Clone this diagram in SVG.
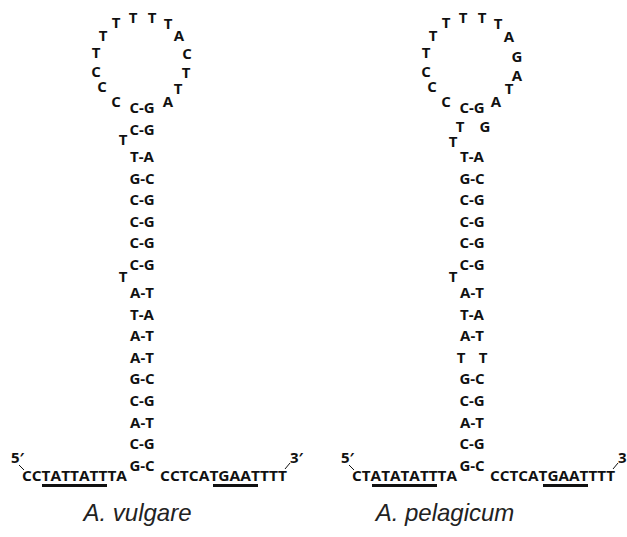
<svg xmlns="http://www.w3.org/2000/svg" width="627" height="537" viewBox="0 0 627 537">
<style>
.b{font-family:"Open Sans","Liberation Sans",sans-serif;font-weight:bold;font-size:15px;fill:#111;text-anchor:middle}
.s{font-family:"Open Sans","Liberation Sans",sans-serif;font-weight:bold;font-size:15px;fill:#111}
.lab{font-family:"Liberation Sans",Arial,sans-serif;font-style:italic;font-size:24px;fill:#222;text-anchor:middle}
.ln{stroke:#111;stroke-width:1;fill:none}
.ul{fill:#111}
</style>
<rect width="627" height="537" fill="#fff"/>
<g id="vulgare">
  <g id="vulgare-loop" class="b">
    <text x="116" y="107">C</text><text x="102" y="92">C</text><text x="96" y="77">C</text>
    <text x="96" y="58">T</text><text x="103" y="41">T</text><text x="116" y="28">T</text>
    <text x="133" y="23">T</text><text x="152" y="23">T</text><text x="168" y="29">T</text>
    <text x="179" y="41">A</text><text x="187" y="59">C</text><text x="186" y="78">T</text>
    <text x="178" y="94">T</text><text x="168" y="107">A</text>
  </g>
  <g id="vulgare-stem" class="b">
    <text x="142" y="113">C-G</text>
    <text x="142" y="135">C-G</text>
    <text x="123" y="145">T</text>
    <text x="142" y="162">T-A</text>
    <text x="142" y="184">G-C</text>
    <text x="142" y="205">C-G</text>
    <text x="142" y="227">C-G</text>
    <text x="142" y="248">C-G</text>
    <text x="142" y="270">C-G</text>
    <text x="123" y="282">T</text>
    <text x="142" y="298">A-T</text>
    <text x="142" y="320">T-A</text>
    <text x="142" y="341">A-T</text>
    <text x="142" y="363">A-T</text>
    <text x="142" y="384">G-C</text>
    <text x="142" y="406">C-G</text>
    <text x="142" y="428">A-T</text>
    <text x="142" y="449">C-G</text>
    <text x="142" y="471">G-C</text>
  </g>
  <g id="vulgare-flanks">
    <text class="s" x="11" y="463">5′</text>
    <line class="ln" x1="19" y1="465" x2="24" y2="470"/>
    <text class="s" x="22" y="481" textLength="105" lengthAdjust="spacingAndGlyphs">CCTATTATTTA</text>
    <rect class="ul" x="42" y="484" width="65" height="3"/>
    <text class="s" x="160" y="481" textLength="127" lengthAdjust="spacingAndGlyphs">CCTCATGAATTTT</text>
    <rect class="ul" x="213" y="484" width="45" height="3"/>
    <line class="ln" x1="285" y1="469" x2="290" y2="463"/>
    <text class="s" x="290" y="463">3′</text>
  </g>
  <text id="label-vulgare" class="lab" x="137.5" y="521">A. vulgare</text>
</g>
<g id="pelagicum">
  <g id="pelagicum-loop" class="b">
    <text x="446" y="107">C</text><text x="432" y="92">C</text><text x="426" y="77">C</text>
    <text x="426" y="58">T</text><text x="433" y="41">T</text><text x="446" y="28">T</text>
    <text x="463" y="23">T</text><text x="482" y="23">T</text><text x="498" y="29">T</text>
    <text x="509" y="42">A</text><text x="517" y="62">G</text><text x="517" y="81">A</text>
    <text x="509" y="94">T</text><text x="496" y="107">A</text>
  </g>
  <g id="pelagicum-stem" class="b">
    <text x="472" y="113">C-G</text>
    <text x="460" y="132">T</text><text x="485" y="132">G</text>
    <text x="453" y="147">T</text>
    <text x="472" y="162">T-A</text>
    <text x="472" y="184">G-C</text>
    <text x="472" y="205">C-G</text>
    <text x="472" y="227">C-G</text>
    <text x="472" y="248">C-G</text>
    <text x="472" y="270">C-G</text>
    <text x="453" y="282">T</text>
    <text x="472" y="298">A-T</text>
    <text x="472" y="320">T-A</text>
    <text x="472" y="341">A-T</text>
    <text x="461" y="363">T</text><text x="483" y="363">T</text>
    <text x="472" y="384">G-C</text>
    <text x="472" y="406">C-G</text>
    <text x="472" y="428">A-T</text>
    <text x="472" y="449">C-G</text>
    <text x="472" y="471">G-C</text>
  </g>
  <g id="pelagicum-flanks">
    <text class="s" x="341" y="463">5′</text>
    <line class="ln" x1="349" y1="465" x2="354" y2="470"/>
    <text class="s" x="352" y="481" textLength="105" lengthAdjust="spacingAndGlyphs">CTATATATTTA</text>
    <rect class="ul" x="372" y="484" width="65" height="3"/>
    <text class="s" x="490" y="481" textLength="125" lengthAdjust="spacingAndGlyphs">CCTCATGAATTTT</text>
    <rect class="ul" x="543" y="484" width="45" height="3"/>
    <line class="ln" x1="613" y1="469" x2="618" y2="463"/>
    <text class="s" x="618" y="463">3</text>
  </g>
  <text id="label-pelagicum" class="lab" x="445" y="521">A. pelagicum</text>
</g>
</svg>
